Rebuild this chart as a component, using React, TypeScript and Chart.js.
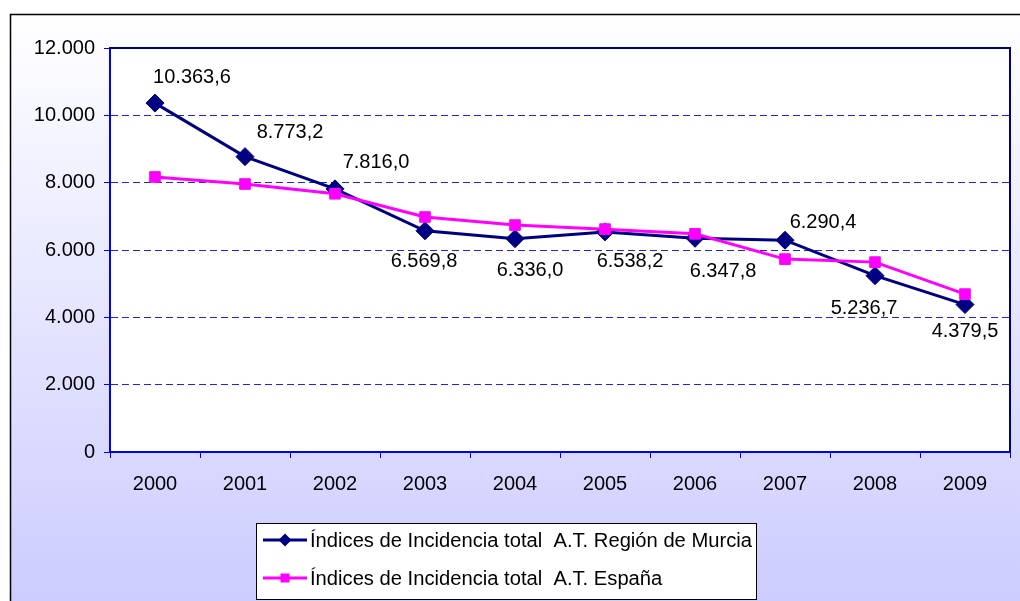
import React, { useEffect, useRef } from 'react';
import { Chart, registerables } from 'chart.js';

Chart.register(...registerables);

// ---------- data ----------
const years = ['2000', '2001', '2002', '2003', '2004', '2005', '2006', '2007', '2008', '2009'];
const murciaValues = [10363.6, 8773.2, 7816.0, 6569.8, 6336.0, 6538.2, 6347.8, 6290.4, 5236.7, 4379.5];
const espanaValues = [8170, 7960, 7670, 6980, 6740, 6620, 6480, 5730, 5640, 4690];
const murciaLabel = 'Índices de Incidencia total  A.T. Región de Murcia';
const espanaLabel = 'Índices de Incidencia total  A.T. España';
const yMin = 0;
const yMax = 12000;
const yStep = 2000;

// ---------- style ----------
const FONT_FAMILY = '"Liberation Sans", Arial, sans-serif';
const FONT_SIZE = 20;
const NAVY = '#000080';
const MAGENTA = '#FF00FF';
const AXIS_BLUE = '#0000FF';
const GRID_BLUE = '#1F1FFF';
// per-label offsets (pixels) of the data labels relative to their point
const murciaLabelOffsets: [number, number][] = [
  [37, -26], [45, -24], [41, -26], [-1, 31], [15, 32],
  [25, 30], [28, 33], [38, -18], [-11, 33], [0, 27],
];

function fmtEs(n: number, decimals: number): string {
  const fixed = n.toFixed(decimals);
  const parts = fixed.split('.');
  const intPart = parts[0].replace(/\B(?=(\d{3})+(?!\d))/g, '.');
  return parts.length > 1 ? intPart + ',' + parts[1] : intPart;
}

const backgroundPlugin = {
  id: 'bgFrame',
  beforeDraw(chart: any) {
    const { ctx, width, height, chartArea } = chart;
    ctx.save();
    ctx.fillStyle = '#ffffff';
    ctx.fillRect(0, 0, width, height);
    const g = ctx.createLinearGradient(0, 14, 0, height);
    g.addColorStop(0, '#FFFFFF');
    g.addColorStop(1, '#CCCCFF');
    ctx.fillStyle = g;
    ctx.fillRect(10, 14, width - 10, height - 14);
    ctx.strokeStyle = '#000000';
    ctx.lineWidth = 1.5;
    ctx.beginPath();
    ctx.moveTo(10.5, height);
    ctx.lineTo(10.5, 14.5);
    ctx.lineTo(width, 14.5);
    ctx.stroke();
    ctx.fillStyle = '#ffffff';
    ctx.fillRect(chartArea.left, chartArea.top, chartArea.right - chartArea.left, chartArea.bottom - chartArea.top);
    ctx.restore();
  },
};

const frameAndLabelsPlugin = {
  id: 'frameLabels',
  afterDatasetsDraw(chart: any) {
    const { ctx, chartArea } = chart;
    ctx.save();
    // top & right plot border
    ctx.strokeStyle = NAVY;
    ctx.lineWidth = 2;
    ctx.beginPath();
    ctx.moveTo(chartArea.left, chartArea.top);
    ctx.lineTo(chartArea.right, chartArea.top);
    ctx.lineTo(chartArea.right, chartArea.bottom);
    ctx.stroke();
    // data labels for Murcia
    const idx = chart.data.datasets.findIndex((d: any) => d.label === murciaLabel);
    const meta = chart.getDatasetMeta(idx);
    ctx.font = `${FONT_SIZE}px ${FONT_FAMILY}`;
    ctx.fillStyle = '#000000';
    ctx.textAlign = 'center';
    ctx.textBaseline = 'middle';
    meta.data.forEach((pt: any, i: number) => {
      const off = murciaLabelOffsets[i] || [0, -20];
      ctx.fillText(fmtEs(murciaValues[i], 1), pt.x + off[0], pt.y + off[1]);
    });
    ctx.restore();
  },
  afterDraw(chart: any) {
    const { ctx } = chart;
    ctx.save();
    const bx = 256, by = 523, bw = 500, bh = 77;
    ctx.fillStyle = '#ffffff';
    ctx.fillRect(bx, by, bw, bh);
    ctx.strokeStyle = '#000000';
    ctx.lineWidth = 1;
    ctx.strokeRect(bx + 0.5, by + 0.5, bw, bh - 1);
    const rows = [
      { label: murciaLabel, color: NAVY, marker: 'diamond', y: 540 },
      { label: espanaLabel, color: MAGENTA, marker: 'square', y: 578 },
    ];
    ctx.font = `${FONT_SIZE}px ${FONT_FAMILY}`;
    const w0 = ctx.measureText(murciaLabel).width;
    const sx = 442 / w0;
    rows.forEach((r) => {
      ctx.strokeStyle = r.color;
      ctx.fillStyle = r.color;
      ctx.lineWidth = 3;
      ctx.beginPath();
      ctx.moveTo(263, r.y);
      ctx.lineTo(307, r.y);
      ctx.stroke();
      if (r.marker === 'diamond') {
        ctx.beginPath();
        ctx.moveTo(285, r.y - 6.5);
        ctx.lineTo(291.5, r.y);
        ctx.lineTo(285, r.y + 6.5);
        ctx.lineTo(278.5, r.y);
        ctx.closePath();
        ctx.fill();
      } else {
        ctx.fillRect(280.5, r.y - 4.5, 9, 9);
      }
      ctx.save();
      ctx.translate(310, r.y);
      ctx.scale(sx, 1);
      ctx.fillStyle = '#000000';
      ctx.textAlign = 'left';
      ctx.textBaseline = 'middle';
      ctx.fillText(r.label, 0, 1);
      ctx.restore();
    });
    ctx.restore();
  },
};

export default function App() {
  const canvasRef = useRef<HTMLCanvasElement | null>(null);

  useEffect(() => {
    const canvas = canvasRef.current;
    if (!canvas) return;
    const font = { family: FONT_FAMILY, size: FONT_SIZE };
    const chart = new Chart(canvas, {
      type: 'line',
      data: {
        labels: years,
        datasets: [
          {
            label: murciaLabel,
            data: murciaValues,
            borderColor: NAVY,
            backgroundColor: NAVY,
            borderWidth: 3,
            pointStyle: 'rectRot',
            pointRadius: 9,
            pointBackgroundColor: NAVY,
            pointBorderColor: NAVY,
            pointBorderWidth: 1,
            tension: 0,
            order: 1,
          },
          {
            label: espanaLabel,
            data: espanaValues,
            borderColor: MAGENTA,
            backgroundColor: MAGENTA,
            borderWidth: 3,
            pointStyle: 'rect',
            pointRadius: 7.5,
            pointBackgroundColor: MAGENTA,
            pointBorderColor: MAGENTA,
            pointBorderWidth: 1,
            tension: 0,
            order: 0,
          },
        ],
      },
      options: {
        animation: false,
        responsive: false,
        maintainAspectRatio: false,
        layout: { padding: { left: 0, top: 48, right: 2, bottom: 0 } },
        plugins: {
          legend: { display: false },
          tooltip: { enabled: false },
        },
        scales: {
          x: {
            offset: true,
            grid: {
              offset: true,
              drawOnChartArea: false,
              drawTicks: true,
              tickLength: 6,
              color: AXIS_BLUE,
              tickColor: AXIS_BLUE,
            },
            border: { color: AXIS_BLUE, width: 2 },
            ticks: { color: '#000000', font, padding: 14, maxRotation: 0, autoSkip: false },
            afterFit: (s: any) => {
              s.height = 149;
            },
          },
          y: {
            min: yMin,
            max: yMax,
            ticks: {
              stepSize: yStep,
              color: '#000000',
              font,
              padding: 9,
              callback: (v: any) => fmtEs(Number(v), 0),
            },
            grid: {
              color: GRID_BLUE,
              lineWidth: 1,
              tickLength: 6,
              tickColor: AXIS_BLUE,
              drawTicks: true,
            },
            border: { color: AXIS_BLUE, width: 2, dash: [7, 4] },
            afterFit: (s: any) => {
              s.width = 110;
            },
          },
        },
      },
      plugins: [backgroundPlugin, frameAndLabelsPlugin],
    } as any);
    return () => chart.destroy();
  }, []);

  return (
    <div style={{ position: 'fixed', left: 0, top: 0, width: 1020, height: 601 }}>
      <canvas ref={canvasRef} width={1020} height={601} style={{ width: 1020, height: 601, display: 'block' }} />
    </div>
  );
}
